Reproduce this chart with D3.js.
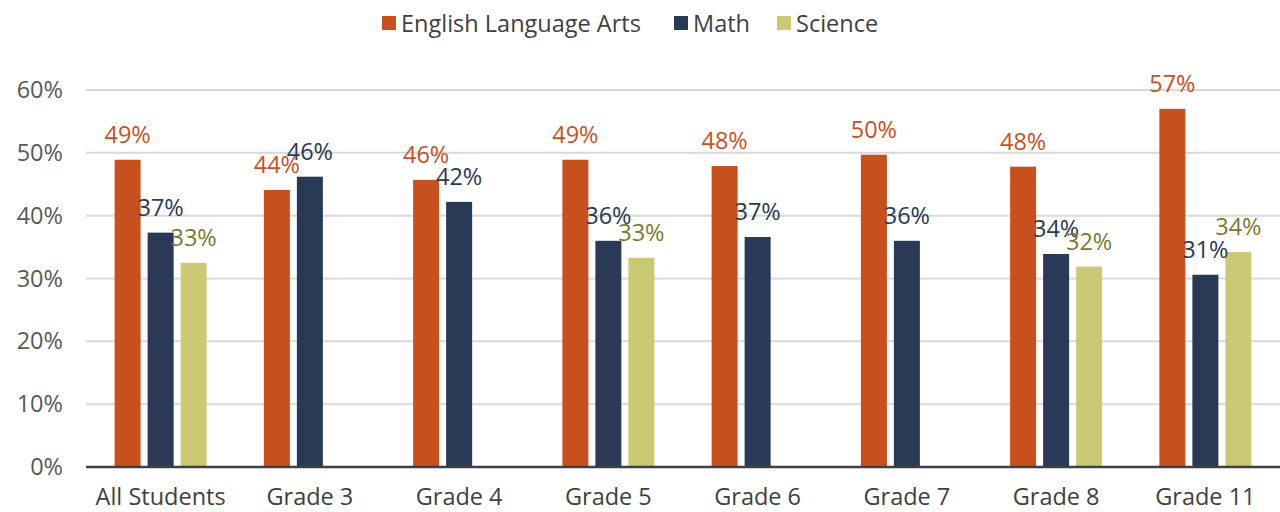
<!DOCTYPE html>
<html>
<head>
<meta charset="utf-8">
<script src="https://cdn.jsdelivr.net/npm/d3@7"></script>
<style>
  body { margin: 0; background: #fff; }
  text { font-family: "Open Sans", Lato, sans-serif; }
</style>
</head>
<body>
<div id="chart"></div>
<script>
const categories = ['All Students', 'Grade 3', 'Grade 4', 'Grade 5', 'Grade 6', 'Grade 7', 'Grade 8', 'Grade 11'];
const seriesNames = ['English Language Arts', 'Math', 'Science'];
const elaValues = [48.9, 44.1, 45.7, 48.9, 47.9, 49.7, 47.8, 57.0];
const mathValues = [37.3, 46.2, 42.2, 36.0, 36.6, 36.0, 33.9, 30.6];
const scienceValues = [32.5, null, null, 33.3, null, null, 31.9, 34.2];
const yTicks = [0, 10, 20, 30, 40, 50, 60];

const width = 1280, height = 512;
const margin = {top: 90, right: 0, bottom: 45, left: 86};
const barColors = ['#C8501E', '#283A55', '#CBC974'];
const labelColors = ['#C8501E', '#283A55', '#7B7A30'];
const fontSize = 23.5;

const svg = d3.select('#chart')
  .append('svg')
    .attr('width', width)
    .attr('height', height);

const x = d3.scaleBand()
  .domain(categories)
  .range([margin.left, width - margin.right]);

const y = d3.scaleLinear()
  .domain([0, 60])
  .range([height - margin.bottom, margin.top]);

// gridlines
svg.append('g')
  .selectAll('line')
  .data(yTicks.slice(1))
  .join('line')
    .attr('x1', margin.left)
    .attr('x2', width - margin.right)
    .attr('y1', d => y(d))
    .attr('y2', d => y(d))
    .attr('stroke', '#D9D9D9')
    .attr('stroke-width', 2);

// y axis labels
const yAxis = svg.append('g')
  .attr('transform', `translate(${margin.left},0)`)
  .call(d3.axisLeft(y).tickValues(yTicks).tickFormat(d => d + '%').tickSize(0).tickPadding(23));
yAxis.select('.domain').remove();
yAxis.selectAll('text')
  .attr('font-size', fontSize)
  .attr('fill', '#595959')
  .style('font-family', '"Open Sans", sans-serif');

const series = [elaValues, mathValues, scienceValues];
const barW = 26, step = 33;

const rows = [];
categories.forEach((c, i) => {
  series.forEach((vals, s) => {
    if (vals[i] != null) rows.push({cat: c, s, v: vals[i]});
  });
});

const cx = d => x(d.cat) + x.bandwidth() / 2 + (d.s - 1) * step;

svg.append('g')
  .selectAll('rect')
  .data(rows)
  .join('rect')
    .attr('x', d => cx(d) - barW / 2)
    .attr('width', barW)
    .attr('y', d => y(d.v))
    .attr('height', d => y(0) - y(d.v))
    .attr('fill', d => barColors[d.s]);

svg.append('g')
  .selectAll('text')
  .data(rows)
  .join('text')
    .attr('x', cx)
    .attr('y', d => y(d.v) - 17)
    .attr('text-anchor', 'middle')
    .attr('font-size', fontSize)
    .attr('fill', d => labelColors[d.s])
    .text(d => Math.round(d.v) + '%');

// baseline
svg.append('line')
  .attr('x1', margin.left)
  .attr('x2', width - margin.right)
  .attr('y1', y(0))
  .attr('y2', y(0))
  .attr('stroke', '#404040')
  .attr('stroke-width', 2.5);

// x axis labels
svg.append('g')
  .selectAll('text')
  .data(categories)
  .join('text')
    .attr('x', d => x(d) + x.bandwidth() / 2)
    .attr('y', 505)
    .attr('text-anchor', 'middle')
    .attr('font-size', fontSize)
    .attr('fill', '#404040')
    .text(d => d);

// legend
const legendX = [382, 674, 777];
const legend = svg.append('g')
  .selectAll('g')
  .data(seriesNames)
  .join('g')
    .attr('transform', (d, i) => `translate(${legendX[i]},16)`);
legend.append('rect')
  .attr('width', 14)
  .attr('height', 14)
  .attr('fill', (d, i) => barColors[i]);
legend.append('text')
  .attr('x', 19)
  .attr('y', 16)
  .attr('font-size', fontSize)
  .attr('fill', '#404040')
  .text(d => d);
</script>
</body>
</html>
